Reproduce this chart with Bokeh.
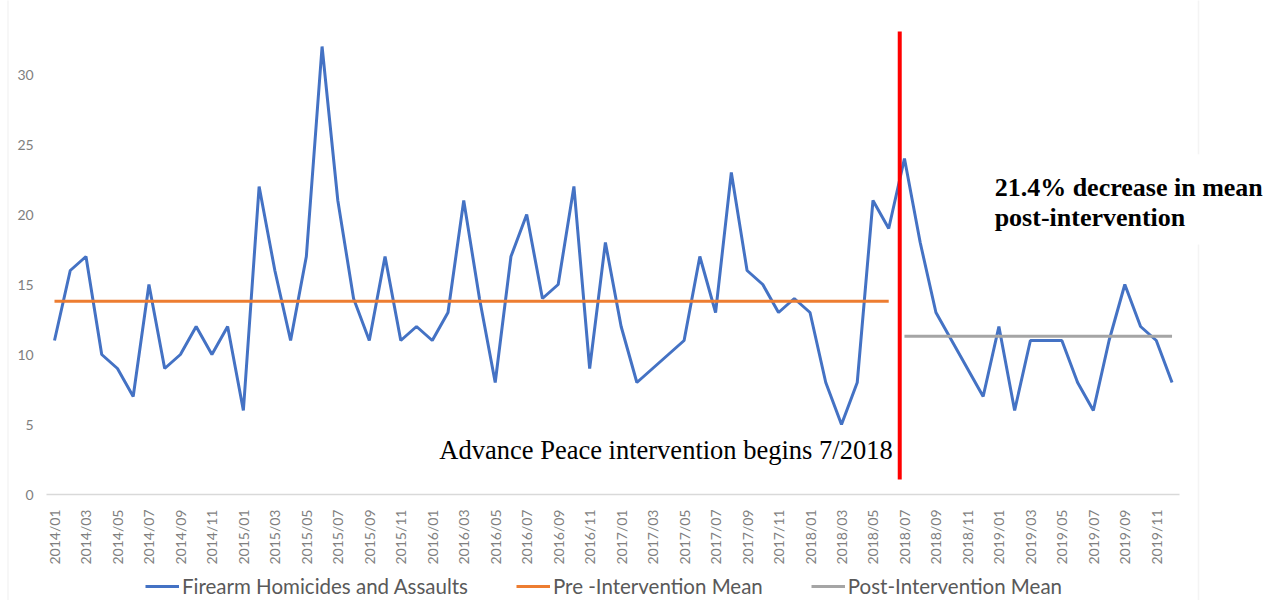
import math
from bokeh.plotting import figure
from bokeh.models import (Range1d, FixedTicker, Legend, LegendItem, BoxAnnotation, Label)
from bokeh.embed import file_html
from bokeh.resources import INLINE

# ---------------- data ----------------
months = [f"{y}/{m:02d}" for y in range(2014, 2020) for m in range(1, 13)]
homicides = [
    11, 16, 17, 10, 9, 7, 15, 9, 10, 12, 10, 12,      # 2014
    6, 22, 16, 11, 17, 32, 21, 14, 11, 17, 11, 12,     # 2015
    11, 13, 21, 14, 8, 17, 20, 14, 15, 22, 9, 18,      # 2016
    12, 8, 9, 10, 11, 17, 13, 23, 16, 15, 13, 14,      # 2017
    13, 8, 5, 8, 21, 19, 24, 18, 13, 11, 9, 7,         # 2018
    12, 6, 11, 11, 11, 8, 6, 11, 15, 12, 11, 8,        # 2019
]
n_pre = 54                 # 2014/01 .. 2018/06
pre_mean = 13.8
post_mean = 11.3
y_ticks = [0, 5, 10, 15, 20, 25, 30]
x_tick_idx = list(range(0, len(months), 2))
series_names = ["Firearm Homicides and Assaults", "Pre -Intervention Mean", "Post-Intervention Mean"]
intervention_text = "Advance Peace intervention begins 7/2018"
result_text = ["21.4% decrease in mean", "post-intervention"]

# ---------------- figure (frame covers the whole canvas) ----------------
W, H = 1268, 600
PX_X, PX_Y = 15.74, 14.0
x0 = -54 / PX_X                    # first month sits 54px from the canvas left edge
y1 = 494 / PX_Y                    # zero line sits 494px below the canvas top edge
x = list(range(len(months)))
p = figure(width=W, height=H,
           x_range=Range1d(x0, x0 + W / PX_X), y_range=Range1d(y1 - H / PX_Y, y1),
           output_backend="svg", toolbar_location=None,
           min_border_left=0, min_border_right=0, min_border_top=0, min_border_bottom=0)
p.outline_line_color = None
p.xgrid.visible = False
p.ygrid.visible = False
p.background_fill_color = "white"
p.border_fill_color = "white"

# chart-area border (left and right edges)
p.add_layout(BoxAnnotation(left=x0 + 7.5 / PX_X, right=x0 + 1198 / PX_X, top=60, bottom=-30,
                           fill_alpha=0, line_color="#d9d9d9", line_width=1.5))

r1 = p.line(x, homicides, line_color="#4472C4", line_width=3)
r2 = p.line([0, n_pre - 1], [pre_mean, pre_mean], line_color="#ED7D31", line_width=3)
r3 = p.line([n_pre, len(months) - 1], [post_mean, post_mean], line_color="#A5A5A5", line_width=3)

# intervention marker
p.line([53.7, 53.7], [1.07, 33.07], line_color="#FF0000", line_width=4)

# axes drawn inside the frame at fixed positions
ya = p.yaxis[0]
ya.fixed_location = -0.5
ya.ticker = FixedTicker(ticks=y_ticks)
ya.axis_line_color = None
ya.major_tick_line_color = None
ya.minor_tick_line_color = None
ya.major_tick_out = 0
ya.major_label_text_font = "Lato"
ya.major_label_text_font_size = "14px"
ya.major_label_text_color = "#808080"
ya.major_label_standoff = 13

xa = p.xaxis[0]
xa.fixed_location = 0
xa.bounds = (-0.5, len(months) - 0.5)
xa.ticker = FixedTicker(ticks=x_tick_idx)
xa.major_label_overrides = {i: months[i] for i in x_tick_idx}
xa.major_label_orientation = math.pi / 2
xa.axis_line_color = "#d9d9d9"
xa.axis_line_width = 1.5
xa.major_tick_line_color = None
xa.minor_tick_line_color = None
xa.major_label_text_font = "Lato"
xa.major_label_text_font_size = "14px"
xa.major_label_text_color = "#7f7f7f"
xa.major_label_standoff = 9

legend = Legend(items=[LegendItem(label=series_names[0], renderers=[r1]),
                       LegendItem(label=series_names[1], renderers=[r2]),
                       LegendItem(label=series_names[2], renderers=[r3])],
                orientation="horizontal", location=(145, 2),
                label_text_font="Lato", label_text_font_size="20.5px",
                label_text_color="#595959", glyph_width=34, glyph_height=20,
                spacing=48, label_standoff=3, border_line_color=None,
                background_fill_alpha=0, padding=2, margin=0)
p.add_layout(legend, "center")

# annotations
p.add_layout(Label(x=53.25, y=3.21, text=intervention_text, text_align="right",
                   text_baseline="alphabetic", text_font="Liberation Serif",
                   text_font_size="26.5px", text_color="black"))
p.add_layout(BoxAnnotation(left=59.5, right=90, top=24.3, bottom=17.85,
                           fill_color="white", fill_alpha=1, line_color=None))
p.add_layout(Label(x=59.73, y=21.93, text=result_text[0], text_align="left",
                   text_baseline="alphabetic", text_font="Liberation Serif",
                   text_font_style="bold", text_font_size="26px", text_color="black"))
p.add_layout(Label(x=59.73, y=19.79, text=result_text[1], text_align="left",
                   text_baseline="alphabetic", text_font="Liberation Serif",
                   text_font_style="bold", text_font_size="26px", text_color="black"))

open("out.html", "w").write(file_html(p, INLINE))
